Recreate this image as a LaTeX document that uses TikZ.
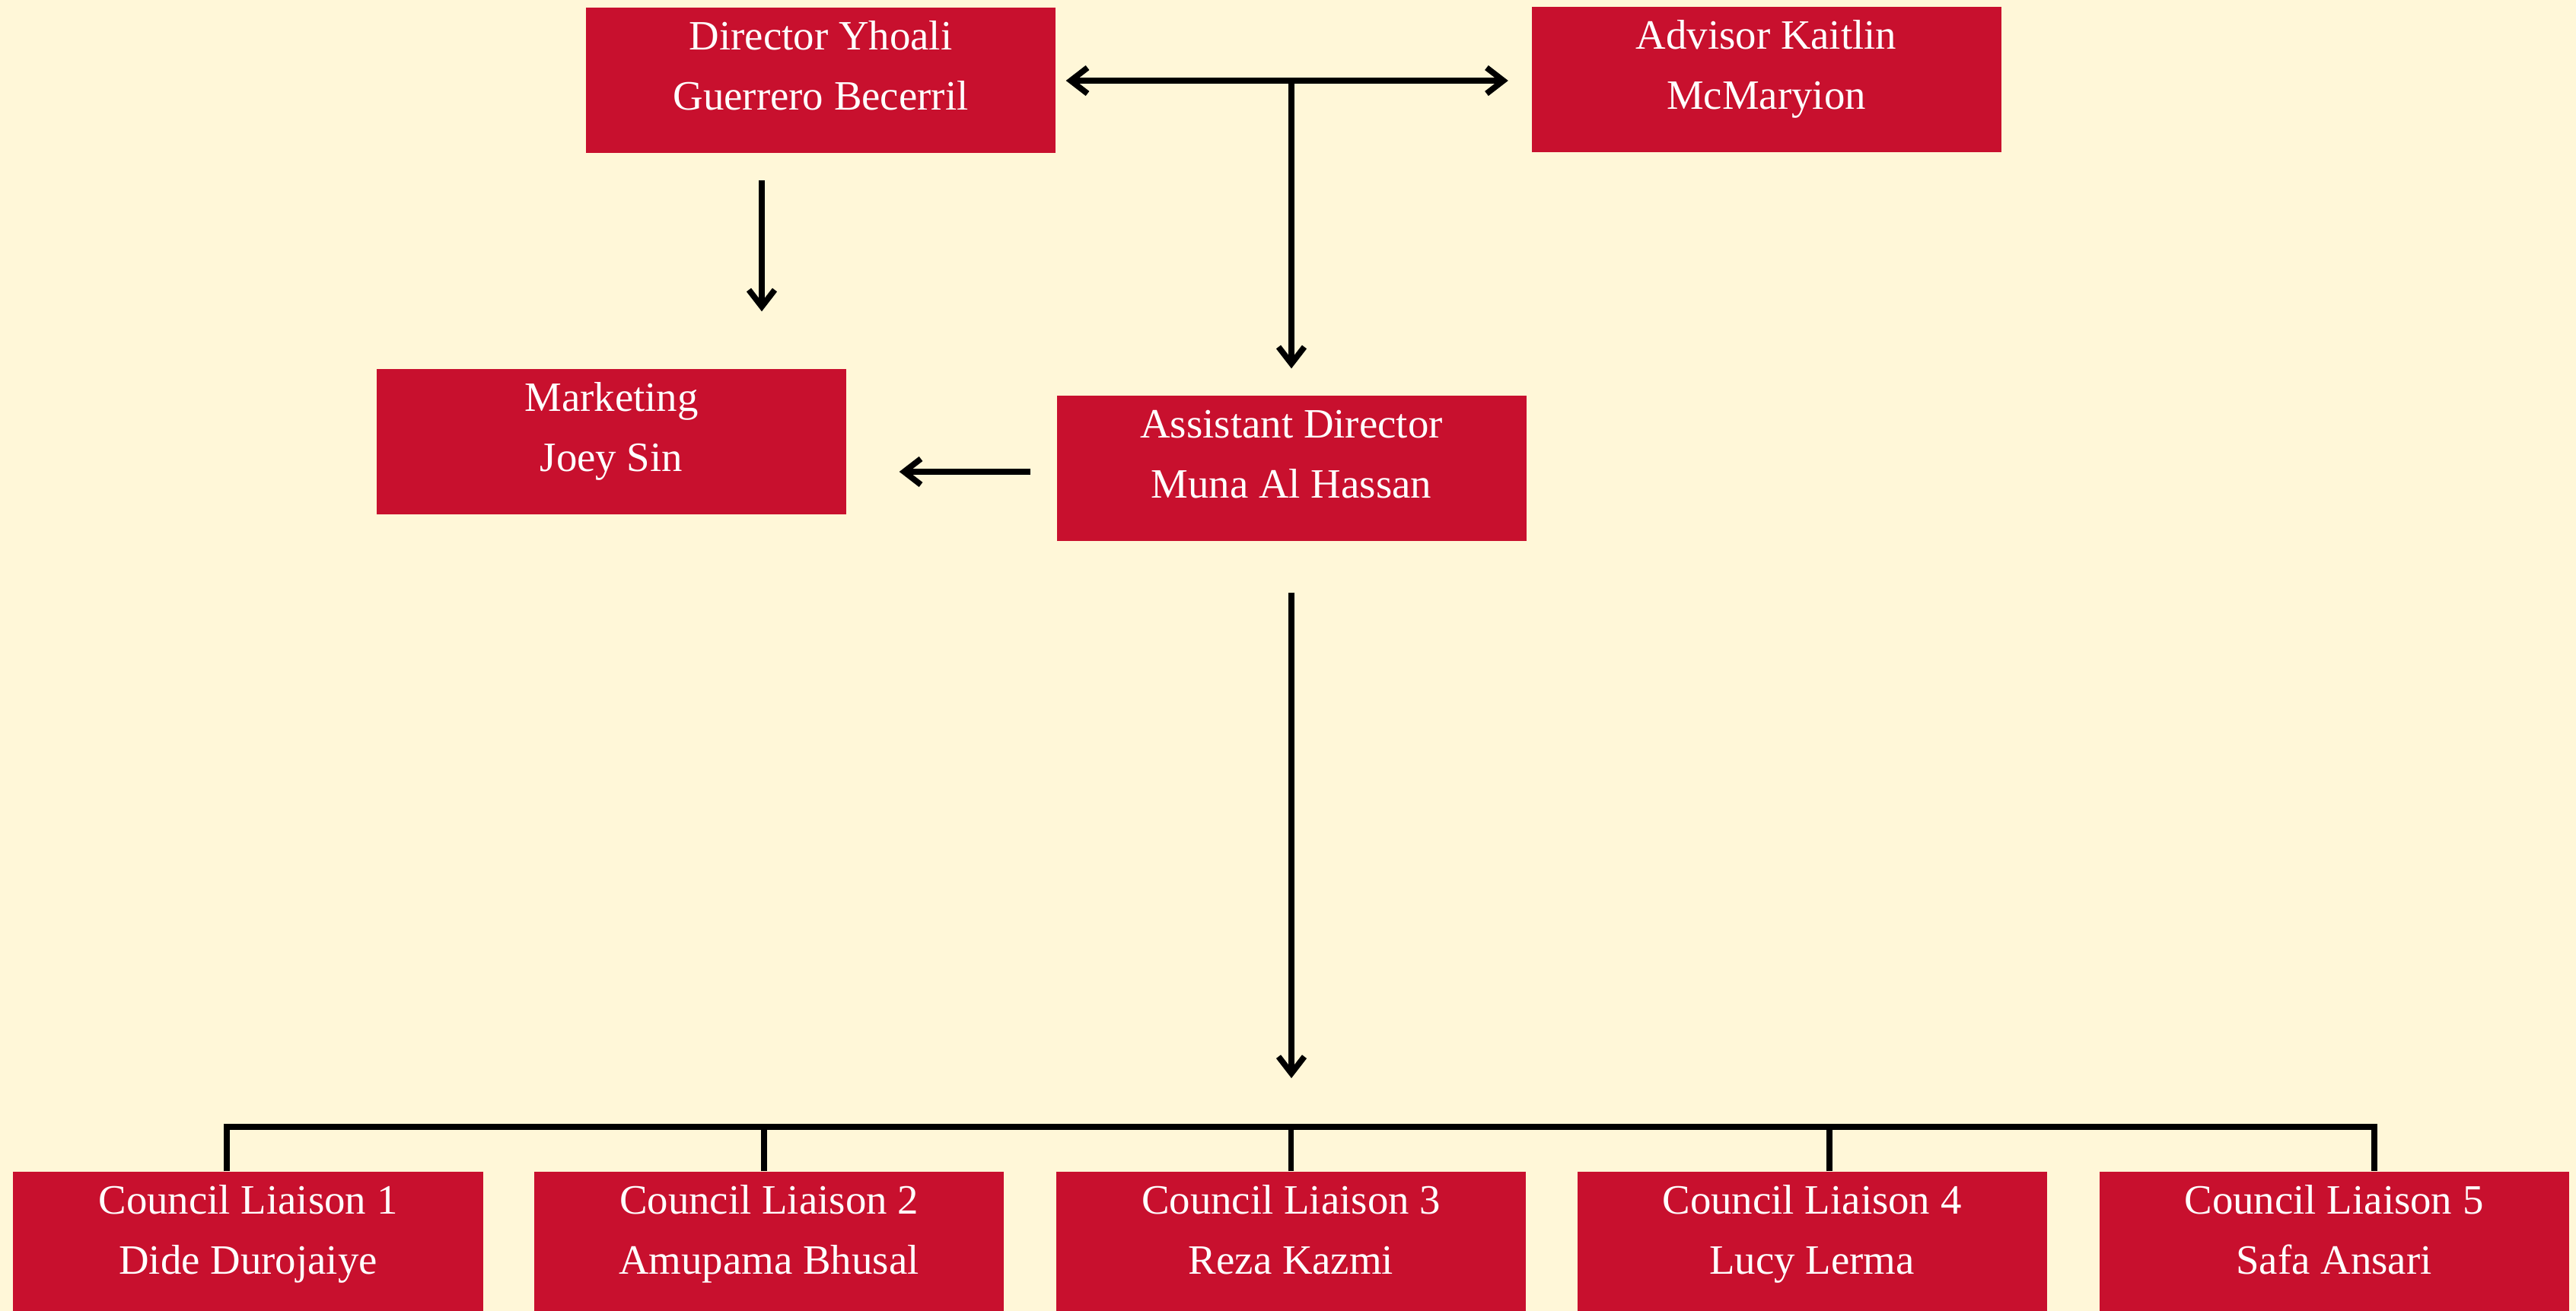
\documentclass[tikz,border=0pt]{standalone}
\usepackage{fontspec}
\setmainfont{Liberation Serif}
\usetikzlibrary{arrows.meta}
\definecolor{cream}{HTML}{FFF7D8}
\definecolor{boxred}{HTML}{C8102E}
\newcommand{\twolines}[2]{\raisebox{.04cm}[0pt][0pt]{\begin{tabular}{@{}c@{}}#1\\#2\end{tabular}}}
\begin{document}
\begin{tikzpicture}[
  role/.style={fill=boxred, text=white, minimum width=6.17cm, minimum height=1.91cm,
               inner sep=0pt, font=\fontsize{15.6}{22.5}\selectfont},
  barb/.tip={Straight Barb[length=.22cm,width=.34cm]},
  link/.style={line width=2.2pt, -barb},
  both/.style={line width=2.2pt, barb-barb},
  tree/.style={line width=2.2pt}]
  \fill[cream] (0,0) rectangle (33.85,17.23);
  \useasboundingbox (0,0) rectangle (33.85,17.23);
  \node[role] (dir) at (10.785,16.17) {\twolines{Director Yhoali}{Guerrero Becerril}};
  \node[role] (adv) at (23.21,16.18) {\twolines{Advisor Kaitlin}{McMaryion}};
  \node[role] (mkt) at (8.035,11.425) {\twolines{Marketing}{Joey Sin}};
  \node[role] (ast) at (16.97,11.075) {\twolines{Assistant Director}{Muna Al Hassan}};
  \foreach \i/\who/\x in {1/Dide Durojaiye/3.26, 2/Amupama Bhusal/10.105,
                          3/Reza Kazmi/16.965, 4/Lucy Lerma/23.81, 5/Safa Ansari/30.67}
    \node[role] (cl\i) at (\x,0.875) {\twolines{Council Liaison \i}{\who}};
  % top row
  \draw[both, shorten <=.13cm, shorten >=.3cm] (dir.east) -- (adv.west |- dir.east);
  \draw[link, shorten >=.35cm] (ast.north |- dir.east) -- (ast.north);
  \draw[link, shorten <=.35cm, shorten >=.75cm]
    ([xshift=-.775cm]dir.south) -- ([xshift=-.775cm]dir.south |- mkt.north);
  \draw[link, shorten <=.34cm, shorten >=.69cm]
    ([yshift=-.045cm]ast.west) -- ([yshift=-.045cm]ast.west -| mkt.east);
  % liaisons
  \coordinate (bus) at (ast.south |- 0,2.42);
  \draw[link, shorten <=.67cm, shorten >=.64cm] (ast.south) -- (bus);
  \draw[tree] ([xshift=-.28cm]cl1.north) |- (bus) -| ([xshift=.53cm]cl5.north);
  \foreach \i/\dx in {2/-.065, 3/0, 4/.23}
    \draw[tree] ([xshift=\dx cm]cl\i.north) -- ([xshift=\dx cm]cl\i.north |- bus);
\end{tikzpicture}
\end{document}
